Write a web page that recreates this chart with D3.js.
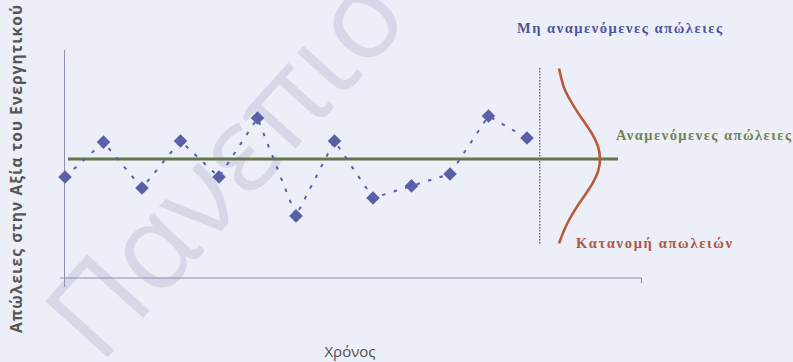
<!DOCTYPE html>
<html>
<head>
<meta charset="utf-8">
<script src="https://cdn.jsdelivr.net/npm/d3@7/dist/d3.min.js"></script>
<style>
  html, body { margin: 0; padding: 0; background: #eceef8; }
  svg { display: block; }
</style>
</head>
<body>
<svg id="chart" width="793" height="362"></svg>
<script>
// ---- data ----
const periods = [0, 1, 2, 3, 4, 5, 6, 7, 8, 9, 10, 11, 12];
const losses  = [4.24, 5.71, 3.78, 5.76, 4.24, 6.72, 2.61, 5.76, 3.36, 3.87, 4.37, 6.81, 5.88];
const expectedLoss = 5.0;
// loss distribution drawn at the right: loss level and relative density
const distLoss    = [8.8, 8.0, 7.5, 7.0, 6.5, 6.0, 5.5, 5.0, 4.5, 4.0, 3.5, 3.0, 2.5, 2.0, 1.45];
const distDensity = [0.09, 0.20, 0.33, 0.49, 0.67, 0.84, 0.96, 1.0, 0.96, 0.84, 0.67, 0.49, 0.33, 0.20, 0.09];
const labels = {
  yAxis: "Απώλειες στην Αξία του Ενεργητικού",
  xAxis: "Χρόνος",
  unexpected: "Μη αναμενόμενες απώλειες",
  expected: "Αναμενόμενες απώλειες",
  distribution: "Κατανομή απωλειών",
  watermark: "Πανεπιστήμιο Πειραιώς"
};

// ---- setup ----
const svg = d3.select("#chart");
const x = d3.scaleLinear().domain([0, 12]).range([65, 527]);
const y = d3.scaleLinear().domain([0, 10]).range([278, 40]);
const dens = d3.scaleLinear().domain([0, 1]).range([555, 600]);

// watermark
svg.append("text")
  .attr("transform", "translate(100,366) rotate(-48)")
  .attr("font-family", "'Open Sans', 'DejaVu Sans', sans-serif")
  .attr("font-size", 118)
  .attr("fill", "#9a9cb4")
  .attr("fill-opacity", 0.26)
  .text(labels.watermark);

// axes
svg.append("line")
  .attr("x1", x(0) - 0.5).attr("x2", x(0) - 0.5)
  .attr("y1", y(9.58)).attr("y2", y(-0.38))
  .attr("stroke", "#8c90ac").attr("stroke-width", 1);
svg.append("path")
  .attr("d", `M60,${y(0)}H641.5V${y(0) + 5}`)
  .attr("fill", "none")
  .attr("stroke", "#8c90ac").attr("stroke-width", 1);

// expected loss line
svg.append("line")
  .attr("x1", 68).attr("x2", 618)
  .attr("y1", y(expectedLoss)).attr("y2", y(expectedLoss))
  .attr("stroke", "#63774a").attr("stroke-width", 3);

// dashed series line
const pts = periods.map((p, i) => [x(p), y(losses[i])]);
svg.append("path")
  .attr("d", d3.line()(pts))
  .attr("fill", "none")
  .attr("stroke", "#5a60a8")
  .attr("stroke-width", 2)
  .attr("stroke-dasharray", "3.5,8.5");

// diamonds
svg.selectAll("path.pt")
  .data(pts)
  .join("path")
  .attr("class", "pt")
  .attr("d", d3.symbol(d3.symbolSquare, 92)())
  .attr("transform", d => `translate(${d[0]},${d[1]}) rotate(45)`)
  .attr("fill", "#5a60a8");

// vertical dotted divider
svg.append("line")
  .attr("x1", x(12.33)).attr("x2", x(12.33))
  .attr("y1", y(8.82)).attr("y2", y(1.4))
  .attr("stroke", "#62668a").attr("stroke-width", 1.4)
  .attr("stroke-dasharray", "1.5,1.5");

// distribution curve
const curvePts = distLoss.map((l, i) => [dens(distDensity[i]), y(l)]);
svg.append("path")
  .attr("d", d3.line().curve(d3.curveCatmullRom)(curvePts))
  .attr("fill", "none")
  .attr("stroke", "#b85a3c")
  .attr("stroke-width", 2.6);

// annotations
const serif = "'Liberation Serif', 'DejaVu Serif', serif";
svg.append("text")
  .attr("x", 517).attr("y", 33)
  .attr("font-family", serif).attr("font-weight", "bold").attr("font-size", 14.5)
  .attr("fill", "#4c559c")
  .attr("textLength", 205).attr("lengthAdjust", "spacing")
  .text(labels.unexpected);
svg.append("text")
  .attr("x", 616).attr("y", 140)
  .attr("font-family", serif).attr("font-weight", "bold").attr("font-size", 14.5)
  .attr("fill", "#6f8452")
  .attr("textLength", 175).attr("lengthAdjust", "spacing")
  .text(labels.expected);
svg.append("text")
  .attr("x", 576).attr("y", 248)
  .attr("font-family", serif).attr("font-weight", "bold").attr("font-size", 14.5)
  .attr("fill", "#ad5646")
  .attr("textLength", 156).attr("lengthAdjust", "spacing")
  .text(labels.distribution);

// axis titles
const sans = "'Open Sans', 'DejaVu Sans', sans-serif";
svg.append("text")
  .attr("x", 350).attr("y", 357)
  .attr("text-anchor", "middle")
  .attr("font-family", sans).attr("font-size", 15)
  .attr("fill", "#505050")
  .text(labels.xAxis);
svg.append("text")
  .attr("transform", "translate(22,333) rotate(-90)")
  .attr("font-family", sans).attr("font-weight", "bold").attr("font-size", 15.5)
  .attr("fill", "#555555")
  .attr("textLength", 328).attr("lengthAdjust", "spacing")
  .text(labels.yAxis);
</script>
</body>
</html>
